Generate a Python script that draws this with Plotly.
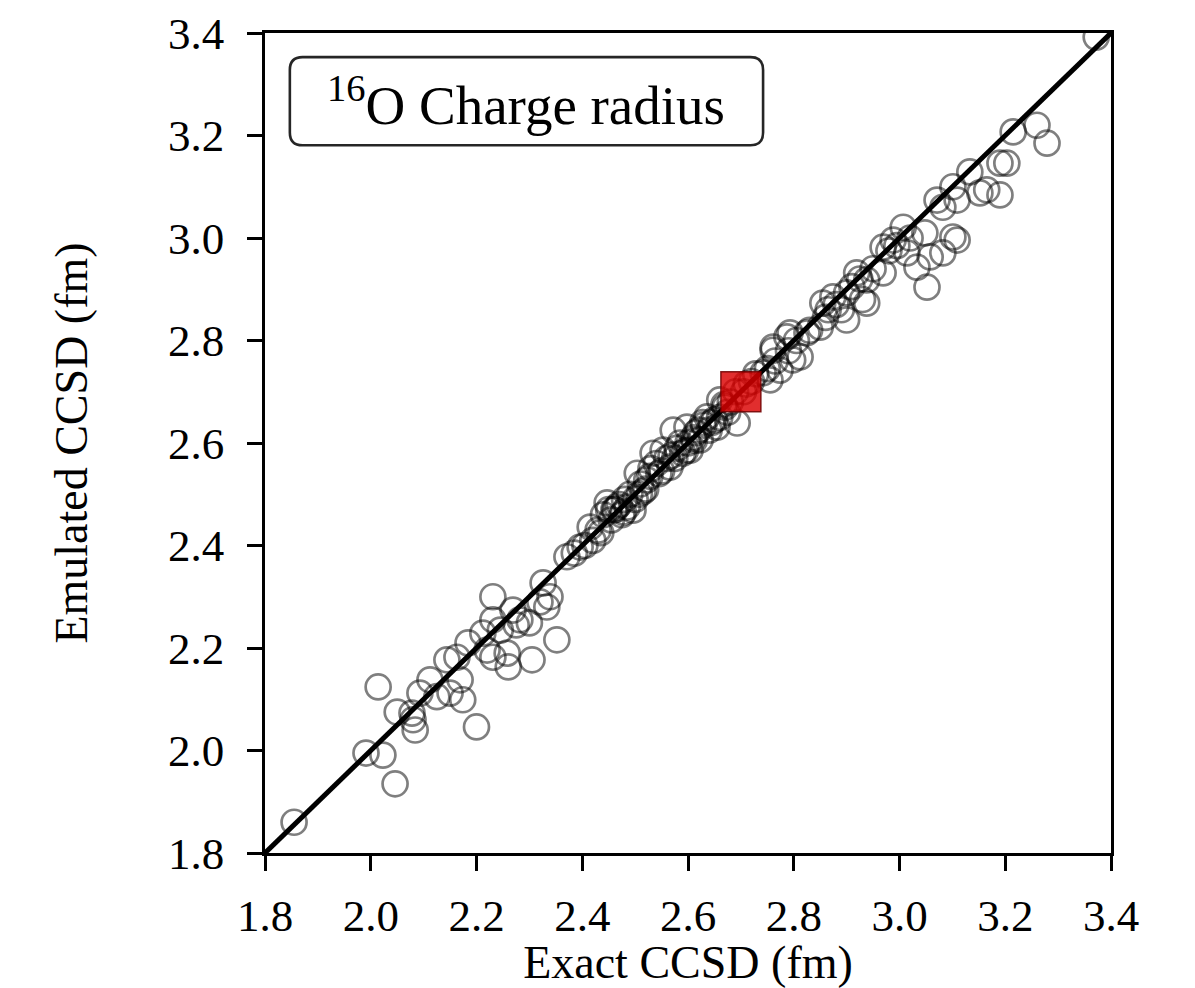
import plotly.graph_objects as go

# exact vs emulated CCSD charge radius (fm)
exact = [
    1.855, 1.991, 2.023, 2.046, 2.014, 2.050, 2.078, 2.080, 2.084, 2.093,
    2.112, 2.125, 2.150, 2.144, 2.163, 2.169, 2.184, 2.174, 2.200, 2.231,
    2.212, 2.220, 2.231, 2.258, 2.260, 2.305, 2.231, 2.269, 2.282, 2.300,
    2.333, 2.326, 2.352, 2.339, 2.245, 2.275, 2.320,
    2.371, 2.396, 2.385, 2.415, 2.420, 2.430, 2.447, 2.440, 2.455, 2.466,
    2.460, 2.475, 2.480, 2.496, 2.490, 2.504, 2.510, 2.515, 2.522, 2.530,
    2.534, 2.540, 2.553, 2.560, 2.566, 2.572, 2.580, 2.585, 2.598, 2.604,
    2.610, 2.615, 2.623, 2.630, 2.636, 2.645, 2.655, 2.660, 2.670, 2.680,
    2.693, 2.690, 2.710, 2.720, 2.742, 2.750, 2.761, 2.787, 2.798, 2.755,
    2.774, 2.761, 2.793, 2.812, 2.825, 2.850, 2.855, 2.874, 2.900, 2.900,
    2.919, 2.938, 2.938, 2.969, 2.969, 2.988, 3.007, 3.014, 3.033, 3.058,
    3.048, 3.052, 3.082, 3.101, 3.109, 3.071, 3.082, 3.109, 3.101, 3.133,
    3.152, 3.165, 3.190, 3.190, 3.203, 3.215, 3.260, 3.279, 3.372,
    2.830, 2.865, 2.880, 2.910, 2.925, 2.950, 2.980, 2.995, 3.020, 2.790,
    2.805, 2.860, 2.890, 2.930,
    2.450, 2.470, 2.485, 2.500, 2.520, 2.545, 2.575, 2.590, 2.600, 2.620,
    2.640, 2.660, 2.675,
    2.405, 2.435, 2.462, 2.478, 2.508, 2.528, 2.550, 2.568, 2.595, 2.612,
    2.628, 2.650, 2.668, 2.705, 2.728, 2.765,
]
emulated = [
    1.860, 1.995, 1.991, 1.935, 2.124, 2.075, 2.073, 2.060, 2.040, 2.112,
    2.138, 2.105, 2.112, 2.177, 2.182, 2.138, 2.210, 2.099, 2.046, 2.300,
    2.229, 2.196, 2.182, 2.190, 2.163, 2.177, 2.255, 2.274, 2.255, 2.249,
    2.280, 2.327, 2.216, 2.300, 2.235, 2.245, 2.290,
    2.378, 2.397, 2.385, 2.436, 2.410, 2.430, 2.483, 2.460, 2.450, 2.475,
    2.470, 2.460, 2.490, 2.469, 2.500, 2.541, 2.520, 2.505, 2.528, 2.550,
    2.580, 2.560, 2.586, 2.570, 2.553, 2.625, 2.590, 2.600, 2.631, 2.586,
    2.610, 2.620, 2.606, 2.635, 2.651, 2.640, 2.631, 2.684, 2.670, 2.680,
    2.639, 2.700, 2.715, 2.720, 2.737, 2.745, 2.781, 2.807, 2.762, 2.723,
    2.742, 2.787, 2.815, 2.768, 2.815, 2.826, 2.873, 2.885, 2.840, 2.893,
    2.932, 2.873, 2.918, 2.932, 2.982, 2.996, 3.021, 2.971, 2.943, 2.963,
    3.010, 2.904, 2.971, 3.002, 2.996, 3.074, 3.060, 3.074, 3.100, 3.129,
    3.088, 3.094, 3.084, 3.146, 3.146, 3.207, 3.220, 3.185, 3.392,
    2.820, 2.860, 2.870, 2.905, 2.920, 2.940, 2.975, 2.985, 3.000, 2.780,
    2.800, 2.845, 2.860, 2.880,
    2.470, 2.480, 2.475, 2.490, 2.510, 2.540, 2.570, 2.580, 2.600, 2.625,
    2.625, 2.650, 2.660,
    2.400, 2.425, 2.470, 2.465, 2.500, 2.535, 2.545, 2.575, 2.585, 2.605,
    2.640, 2.645, 2.675, 2.700, 2.735, 2.760,
]

# nominal interaction point
nominal_exact = [2.70]
nominal_emulated = [2.70]

diag = [1.8, 3.4]
tick_vals = [1.8, 2.0, 2.2, 2.4, 2.6, 2.8, 3.0, 3.2, 3.4]

serif = "Liberation Serif"

fig = go.Figure()
fig.add_trace(go.Scatter(x=diag, y=diag, mode="lines",
                         line=dict(color="black", width=5), showlegend=False))
fig.add_trace(go.Scatter(x=exact, y=emulated, mode="markers",
                         marker=dict(symbol="circle", size=25, color="rgba(0,0,0,0)",
                                     line=dict(color="rgba(0,0,0,0.5)", width=2.7)),
                         showlegend=False))
fig.add_trace(go.Scatter(x=nominal_exact, y=nominal_emulated, mode="markers",
                         marker=dict(symbol="square", size=40, color="rgba(218,0,0,0.82)",
                                     line=dict(color="rgba(110,0,0,0.85)", width=1.5)),
                         showlegend=False))

# rounded label box
x0, x1, y0, y1 = 1.847, 2.742, 3.181, 3.353
rx, ry = 0.024, 0.025
path = (f"M {x0+rx},{y0} L {x1-rx},{y0} Q {x1},{y0} {x1},{y0+ry} "
        f"L {x1},{y1-ry} Q {x1},{y1} {x1-rx},{y1} L {x0+rx},{y1} "
        f"Q {x0},{y1} {x0},{y1-ry} L {x0},{y0+ry} Q {x0},{y0} {x0+rx},{y0} Z")
fig.add_shape(type="path", path=path, xref="x", yref="y",
              line=dict(color="rgba(0,0,0,0.85)", width=2.6), fillcolor="white")
fig.add_annotation(x=(x0 + x1) / 2, y=(y0 + y1) / 2, xref="x", yref="y",
                   text="<sup>16</sup>O Charge radius", showarrow=False,
                   font=dict(family=serif, size=55, color="black"))

axis_common = dict(range=[1.8, 3.4], tickvals=tick_vals, tickformat=".1f",
                   showline=True, mirror=True, linecolor="black", linewidth=2.6,
                   ticks="outside", ticklen=15, tickwidth=2.6, tickcolor="black",
                   showgrid=False, zeroline=False, automargin=False,
                   tickfont=dict(family=serif, size=45, color="black"))

fig.update_xaxes(**axis_common, ticklabelstandoff=6,
                 title=dict(text="Exact CCSD (fm)", standoff=16,
                            font=dict(family=serif, size=46, color="black")))
fig.update_yaxes(**axis_common, ticklabelstandoff=14,
                 title=dict(text="Emulated CCSD (fm)", standoff=66,
                            font=dict(family=serif, size=46, color="black")))

# page body adds an 8px offset, so the figure is a little smaller than the window
fig.update_layout(width=1187, height=980,
                  margin=dict(l=257, r=84, t=25, b=135),
                  plot_bgcolor="white", paper_bgcolor="white")

fig.write_html("out.html")
